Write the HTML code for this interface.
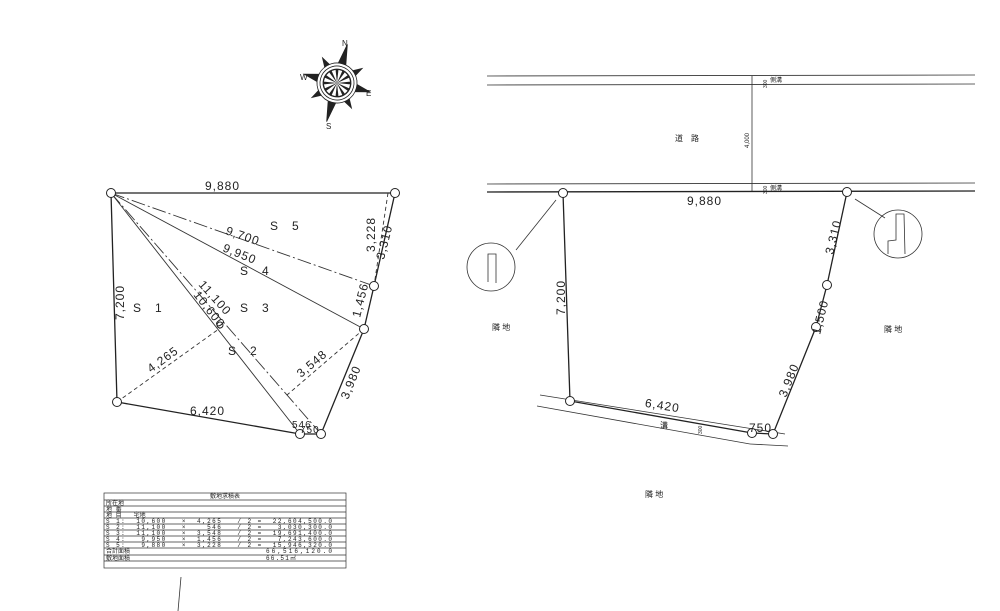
<!DOCTYPE html>
<html><head><meta charset="utf-8"><style>
body{margin:0;background:#fff}
svg{display:block;font-family:"Liberation Sans","Noto Sans CJK JP",sans-serif}
</style></head><body>
<svg width="1000" height="611" viewBox="0 0 1000 611" xmlns="http://www.w3.org/2000/svg">
<!-- compass -->
<g transform="translate(337,83) rotate(15)" stroke="#222" stroke-width="0.8">
<path d="M0 -40 L4 -19 L-4 -19Z M0 40 L4 19 L-4 19Z M-34 0 L-19 4 L-19 -4Z M34 0 L19 4 L19 -4Z" fill="#222"/>
<g transform="rotate(45)"><path d="M0 -29 L3 -19 L-3 -19Z M0 29 L3 19 L-3 19Z M-29 0 L-19 3 L-19 -3Z M29 0 L19 3 L19 -3Z" fill="#222"/></g>
<circle r="20" fill="#fff"/><circle r="17" fill="#fff"/>
<circle r="14" fill="#222"/>
<g fill="#fff" stroke="none">
<path d="M0 0 L-2 -13 L2 -13Z"/><path d="M0 0 L-2 -13 L2 -13Z" transform="rotate(30)"/><path d="M0 0 L-2 -13 L2 -13Z" transform="rotate(60)"/><path d="M0 0 L-2 -13 L2 -13Z" transform="rotate(90)"/><path d="M0 0 L-2 -13 L2 -13Z" transform="rotate(120)"/><path d="M0 0 L-2 -13 L2 -13Z" transform="rotate(150)"/><path d="M0 0 L-2 -13 L2 -13Z" transform="rotate(180)"/><path d="M0 0 L-2 -13 L2 -13Z" transform="rotate(210)"/><path d="M0 0 L-2 -13 L2 -13Z" transform="rotate(240)"/><path d="M0 0 L-2 -13 L2 -13Z" transform="rotate(270)"/><path d="M0 0 L-2 -13 L2 -13Z" transform="rotate(300)"/><path d="M0 0 L-2 -13 L2 -13Z" transform="rotate(330)"/>
</g>
</g>
<g font-size="8" fill="#222"><text x="342" y="46">N</text><text x="300" y="80">W</text><text x="366" y="96">E</text><text x="326" y="129">S</text></g>

<!-- left diagram -->
<g fill="none" stroke="#222" stroke-width="1.3">
<path d="M111 193 L395 193 L374 286 L364 329 L321 434 L300 434 L117 402 Z"/>
</g>
<g fill="none" stroke="#333" stroke-width="0.9">
<line x1="111" y1="193" x2="374" y2="286" stroke-dasharray="14 3 2 3"/>
<line x1="111" y1="193" x2="364" y2="329"/>
<line x1="111" y1="193" x2="300" y2="434"/>
<line x1="111" y1="193" x2="321" y2="434" stroke-dasharray="14 3 2 3"/>
<line x1="388" y1="193" x2="374" y2="286" stroke-dasharray="4 3"/>
<line x1="117" y1="402" x2="223" y2="326" stroke-dasharray="4 3"/>
<line x1="364" y1="329" x2="287" y2="395" stroke-dasharray="4 3"/>
</g>
<g fill="#fff" stroke="#222" stroke-width="1">
<circle cx="111" cy="193" r="4.5"/><circle cx="395" cy="193" r="4.5"/><circle cx="374" cy="286" r="4.5"/><circle cx="364" cy="329" r="4.5"/><circle cx="321" cy="434" r="4.5"/><circle cx="300" cy="434" r="4.5"/><circle cx="117" cy="402" r="4.5"/><circle cx="220" cy="325" r="3"/>
</g>
<g font-size="12" fill="#222" letter-spacing="1">
<text x="205" y="190">9,880</text>
<text x="270" y="230">S　5</text>
<text x="240" y="275">S　4</text>
<text x="240" y="312">S　3</text>
<text x="133" y="312">S　1</text>
<text x="228" y="355">S　2</text>
<text x="190" y="415">6,420</text>
<text transform="translate(225,234) rotate(19)">9,700</text>
<text transform="translate(222,251) rotate(22)">9,950</text>
<text transform="translate(193,295) rotate(52)">10,600</text>
<text transform="translate(198,285) rotate(48)">11,100</text>
<text transform="translate(151,373) rotate(-36)">4,265</text>
<text transform="translate(301,378) rotate(-40)">3,548</text>
<text transform="translate(124,320) rotate(-90)">7,200</text>
<text transform="translate(375,252) rotate(-90)">3,228</text>
<text transform="translate(384,260) rotate(-76)">3,310</text>
<text transform="translate(360,318) rotate(-76)">1,456</text>
<text transform="translate(348,400) rotate(-68)">3,980</text>
<text x="292" y="428" font-size="10">546</text>
<text x="300" y="433" font-size="10">750</text>
</g>

<!-- table -->
<g stroke="#333" stroke-width="0.7" fill="none">
<rect x="104" y="493" width="242" height="75"/>
<line x1="104" y1="500" x2="346" y2="500"/>
<line x1="104" y1="506" x2="346" y2="506"/><line x1="104" y1="512" x2="346" y2="512"/>
<line x1="104" y1="518" x2="346" y2="518"/><line x1="104" y1="524" x2="346" y2="524"/>
<line x1="104" y1="530" x2="346" y2="530"/><line x1="104" y1="536" x2="346" y2="536"/>
<line x1="104" y1="542" x2="346" y2="542"/><line x1="104" y1="548" x2="346" y2="548"/>
<line x1="104" y1="555" x2="346" y2="555"/><line x1="104" y1="561" x2="346" y2="561"/>
</g>
<g font-size="6" fill="#222" font-family="Liberation Mono,monospace">
<text x="210" y="498">敷地求積表</text>
<text x="106" y="505">所在地</text><text x="106" y="511">地 番</text><text x="106" y="517">地 目　　宅地</text>
<text x="106" y="523" xml:space="preserve" textLength="226" lengthAdjust="spacing">S 1:  10,600   ×  4,265   / 2 =  22,604,500.0</text>
<text x="106" y="529" xml:space="preserve" textLength="226" lengthAdjust="spacing">S 2:  11,100   ×    546   / 2 =   3,030,300.0</text>
<text x="106" y="535" xml:space="preserve" textLength="226" lengthAdjust="spacing">S 3:  11,100   ×  3,548   / 2 =  19,691,400.0</text>
<text x="106" y="541" xml:space="preserve" textLength="226" lengthAdjust="spacing">S 4:   9,950   ×  1,456   / 2 =   7,243,600.0</text>
<text x="106" y="547" xml:space="preserve" textLength="226" lengthAdjust="spacing">S 5:   9,880   ×  3,228   / 2 =  15,946,320.0</text>
<text x="106" y="553">合計面積</text><text x="266" y="553" textLength="66" lengthAdjust="spacing">66,516,120.0</text>
<text x="106" y="560">敷地面積</text><text x="266" y="560" textLength="30" lengthAdjust="spacing">66.51㎡</text>
</g>
<line x1="181" y1="577" x2="178" y2="611" stroke="#333" stroke-width="0.8"/>

<!-- right diagram -->
<g stroke="#333" stroke-width="0.8" fill="none">
<line x1="487" y1="76" x2="975" y2="75"/><line x1="487" y1="85" x2="975" y2="84"/>
<line x1="487" y1="184" x2="975" y2="183"/>
<line x1="752" y1="76" x2="752" y2="192"/>
<line x1="540" y1="395" x2="785" y2="434"/>
<line x1="537" y1="406" x2="750" y2="444"/><line x1="750" y1="444" x2="788" y2="446"/>
<line x1="516" y1="250" x2="556" y2="200"/><line x1="855" y1="199" x2="885" y2="218"/>
<circle cx="491" cy="267" r="24"/><circle cx="898" cy="234" r="24"/>
<path d="M488 282 L488 254 L496 254 L496 283"/>
<path d="M888 254 L888 241 L896 240 L896 214 L904 214 L905 254"/>
</g>
<g fill="none" stroke="#222" stroke-width="1.3">
<line x1="487" y1="192" x2="975" y2="191"/>
<path d="M563 193 L570 401 L752 433 L773 434 L816 327 L827 285 L847 192"/>
</g>
<g fill="#fff" stroke="#222" stroke-width="1">
<circle cx="563" cy="193" r="4.5"/><circle cx="847" cy="192" r="4.5"/><circle cx="827" cy="285" r="4.5"/><circle cx="816" cy="327" r="4.5"/><circle cx="773" cy="434" r="4.5"/><circle cx="752" cy="433" r="4.5"/><circle cx="570" cy="401" r="4.5"/>
</g>
<g font-size="12" fill="#222" letter-spacing="1">
<text x="687" y="205">9,880</text>
<text x="645" y="410" transform="rotate(9 665 405)">6,420</text>
<text x="749" y="432">750</text>
<text transform="translate(565,315) rotate(-90)">7,200</text>
<text transform="translate(833,255) rotate(-76)">3,310</text>
<text transform="translate(820,335) rotate(-76)">1,500</text>
<text transform="translate(786,398) rotate(-68)">3,980</text>
</g>
<g font-size="8" fill="#222">
<text x="675" y="141">道　路</text>
<text x="492" y="330">隣 地</text>
<text x="884" y="332">隣 地</text>
<text x="645" y="497">隣 地</text>
<text x="660" y="428">溝</text>
<text x="770" y="82" font-size="6">側溝</text><text x="770" y="190" font-size="6">側溝</text>
<text transform="translate(767,88) rotate(-90)" font-size="5">300</text>
<text transform="translate(767,194) rotate(-90)" font-size="5">300</text>
<text transform="translate(749,148) rotate(-90)" font-size="6">4,000</text>
<text transform="translate(702,434) rotate(-90)" font-size="5">300</text>
</g>
</svg>
</body></html>
